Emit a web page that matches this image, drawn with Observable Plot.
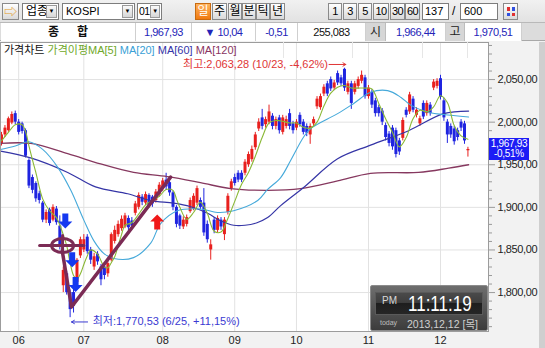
<!DOCTYPE html>
<html><head><meta charset="utf-8">
<script src="https://cdn.jsdelivr.net/npm/d3@7"></script>
<script src="https://cdn.jsdelivr.net/npm/@observablehq/plot@0.6"></script>
<style>
html,body{margin:0;padding:0;background:#f2f2f2;}
#wrap{position:relative;width:545px;height:348px;overflow:hidden;font-family:"Liberation Sans","Noto Sans CJK KR",sans-serif;color:#000;}
.a{position:absolute;box-sizing:border-box;}
.tb{background:linear-gradient(#ffffff,#d9d9d9);border:1px solid #8a8a8a;text-align:center;font-size:11px;line-height:15px;top:3px;height:17px;letter-spacing:-0.5px;white-space:nowrap;}
.kr{font-size:12px;letter-spacing:0;}
.sel{background:#fff;border:1px solid #7d7d7d;top:3px;height:17px;font-size:11px;line-height:15px;padding-left:3px;white-space:nowrap;}
.dd{position:absolute;top:1px;right:1px;width:11px;height:13px;background:linear-gradient(#fafafa,#d6d6d6);border:1px solid #9a9a9a;box-sizing:border-box;font-size:6px;line-height:11px;text-align:center;}
.cell{top:23px;height:18px;background:#fff;border-right:1px solid #cfcfcf;font-size:11px;letter-spacing:-0.5px;line-height:18px;text-align:center;color:#2424b8;white-space:nowrap;}
.gcell{top:23px;height:18px;background:#d6d6d6;border-right:1px solid #bdbdbd;font-size:12px;line-height:18px;text-align:center;color:#222;}
</style></head><body>
<div id="wrap">
  <!-- toolbar -->
  <div class="a" style="left:0;top:0;width:545px;height:23px;background:linear-gradient(#f1f1f1,#e2e2e2);border-bottom:1px solid #b9b9b9;"></div>
  <div class="a tb" style="left:2px;width:17px;color:#e39a1c;font-size:13px;">⇨</div>
  <div class="a sel" style="left:22px;width:37px;font-size:12px;">업종<div class="dd">▼</div></div>
  <div class="a sel" style="left:62px;width:73px;">KOSPI<div class="dd">▼</div></div>
  <div class="a sel" style="left:137px;width:25px;padding-left:1px;font-size:10.5px;letter-spacing:-0.5px;">01<div class="dd" style="width:10px;">▼</div></div>
  <div class="a tb kr" style="left:195px;width:16px;background:linear-gradient(#ffb25a,#f07a10);color:#fff;border-color:#c86a10;">일</div>
  <div class="a tb kr" style="left:212px;width:15px;">주</div>
  <div class="a tb kr" style="left:228px;width:14px;">월</div>
  <div class="a tb kr" style="left:242px;width:14px;">분</div>
  <div class="a tb kr" style="left:256px;width:14px;">틱</div>
  <div class="a tb kr" style="left:270px;width:15px;">년</div>
  <div class="a tb" style="left:328px;width:14px;">1</div>
  <div class="a tb" style="left:343px;width:14px;">3</div>
  <div class="a tb" style="left:358px;width:14px;">5</div>
  <div class="a tb" style="left:373px;width:16px;">10</div>
  <div class="a tb" style="left:390px;width:15px;">30</div>
  <div class="a tb" style="left:405px;width:15px;">60</div>
  <div class="a sel" style="left:422px;width:27px;padding-left:2px;">137</div>
  <div class="a" style="left:452px;top:3px;font-size:12px;line-height:17px;">/</div>
  <div class="a sel" style="left:460px;width:38px;">600</div>
  <div class="a tb" style="left:503px;width:15px;">
    <div class="a" style="left:3px;top:3px;width:3px;height:4px;background:#e03030;"></div>
    <div class="a" style="left:8px;top:3px;width:3px;height:4px;background:#3050e0;"></div>
    <div class="a" style="left:3px;top:9px;width:3px;height:3px;background:#3050e0;"></div>
    <div class="a" style="left:8px;top:9px;width:3px;height:3px;background:#e03030;"></div>
  </div>
  <!-- info row -->
  <div class="a" style="left:0;top:23px;width:545px;height:18px;background:#dcdcdc;border-bottom:1px solid #a8a8a8;"></div>
  <div class="a cell" style="left:1px;width:135px;color:#111;font-weight:bold;font-size:12px;letter-spacing:18px;padding-left:18px;">종합</div>
  <div class="a cell" style="left:136px;width:56px;">1,967,93</div>
  <div class="a cell" style="left:192px;width:64px;">▼ 10,04</div>
  <div class="a cell" style="left:256px;width:42px;">-0,51</div>
  <div class="a cell" style="left:298px;width:68px;color:#111;">255,083</div>
  <div class="a gcell" style="left:366px;width:20px;">시</div>
  <div class="a cell" style="left:386px;width:60px;">1,966,44</div>
  <div class="a gcell" style="left:446px;width:19px;">고</div>
  <div class="a cell" style="left:465px;width:57px;">1,970,51</div>
  <!-- chart -->
  <div id="chart" class="a" style="left:0;top:41px;"></div>
  <div class="a" style="left:539px;top:42px;width:6px;height:306px;background:#cfcfcf;"></div>
  <!-- legend separators -->
  <div class="a" style="left:283px;top:42px;width:1px;height:16px;background:#e6e6e6;"></div>
  <div class="a" style="left:352px;top:42px;width:1px;height:16px;background:#e6e6e6;"></div>
  <div class="a" style="left:422px;top:42px;width:1px;height:16px;background:#e6e6e6;"></div>
  <div class="a" style="left:467px;top:42px;width:1px;height:16px;background:#e6e6e6;"></div>
  <div id="legend" class="a" style="left:4px;top:43px;font-size:11px;line-height:14px;white-space:nowrap;">
    <span style="color:#111">가격차트</span> <span style="color:#6fa82a">가격이평MA[5]</span> <span style="color:#3a9fd6">MA[20]</span> <span style="color:#3434a8">MA[60]</span> <span style="color:#8a3562">MA[120]</span>
  </div>
  <!-- price tag -->
  <div id="tag" class="a" style="left:489px;width:40px;height:22px;background:#1c1cf5;color:#fff;font-size:10px;letter-spacing:-0.3px;line-height:10.5px;text-align:center;padding-top:1px;white-space:nowrap;">1,967,93<br>-0,51%</div>
  <!-- clock -->
  <div class="a" style="left:370px;top:285px;width:118px;height:46px;background:linear-gradient(#6e6e6e,#3c3c3c);border:1px solid #8c8c8c;border-radius:2px;">
    <div class="a" style="left:4px;top:6px;width:108px;height:23px;background:linear-gradient(#4a4a4a 0%,#3e3e3e 45%,#1e1e1e 50%,#262626 100%);border:1px solid #5a5a5a;"></div>
    <div class="a" style="left:11px;top:9px;font-size:10px;color:#d8d8d8;">PM</div>
    <div class="a" style="left:37px;top:7px;font-size:17px;line-height:17px;color:#fff;transform:scale(1,1.3);transform-origin:0 0;white-space:nowrap;">11:11:19</div>
    <div class="a" style="left:9px;top:33px;font-size:7px;color:#bdbdbd;">today</div>
    <div class="a" style="left:36px;top:30px;font-size:10.5px;color:#d0d0d0;white-space:nowrap;">2013,12,12 [목]</div>
  </div>
</div>
<script>
// ---- data ----
const monthTickIdx = [5, 24, 47, 68, 86, 107, 128];
const monthLabels = ["06", "07", "08", "09", "10", "11", "12"];
const yMajor = [1800, 1850, 1900, 1950, 2000, 2050];

const opens = [
  1975,1985,1990,1999,2010,2000,1998,1990,1955,1935,
  1928,1916,1905,1885,1897,1885,1898,1878,1808,1822,
  1800,1800,1812,1843,1850,1865,1850,1830,1845,1830,
  1830,1822,1838,1860,1868,1875,1877,1887,1884,1893,
  1900,1912,1905,1914,1912,1908,1915,1922,1932,1929,
  1917,1900,1890,1877,1880,1895,1898,1905,1908,1905,
  1880,1850,1885,1873,1885,1868,1894,1922,1935,1940,
  1940,1940,1950,1956,1970,1992,2005,1997,2000,2007,
  1995,2005,1988,1995,2010,1998,1993,2008,2000,1995,
  1985,1998,2018,2017,2033,2045,2050,2040,2057,2052,
  2062,2035,2045,2035,2042,2048,2052,2030,2035,2025,
  2017,2013,1996,1986,1993,1990,1978,1981,2014,2012,
  2027,2008,1998,2022,2010,2020,2040,2042,2051,2025,
  2000,1995,1992,1990,2000,1998,1966.44];
const highs = [
  1988,1996,2006,2012,2013,2003,2000,1992,1957,1938,
  1930,1919,1907,1897,1899,1903,1901,1890,1830,1825,
  1803,1808,1840,1865,1868,1868,1853,1846,1848,1833,
  1834,1838,1870,1878,1884,1890,1893,1890,1888,1907,
  1917,1915,1918,1916,1914,1921,1929,1934,1940,1931,
  1919,1902,1892,1889,1891,1911,1916,1925,1911,1922,
  1884,1862,1888,1890,1888,1888,1916,1933,1939,1943,
  1943,1956,1965,1972,1988,2004,2015,2006,2020,2010,
  2006,2008,2008,2007,2015,2001,2003,2011,2003,1998,
  1998,2006,2030,2033,2044,2048,2053,2049,2060,2055,
  2063.28,2048,2048,2048,2053,2060,2055,2043,2038,2028,
  2020,2016,1999,1989,1996,1993,1981,2005,2017,2035,
  2030,2017,2007,2025,2025,2023,2050,2051,2055,2028,
  2003,1998,1995,1993,2003,2001,1970.51];
const lows = [
  1972,1982,1988,1997,1997,1985,1986,1958,1922,1916,
  1906,1904,1882,1881,1878,1883,1879,1850,1800,1797,
  1770.53,1776,1810,1840,1847,1845,1833,1826,1832,1808,
  1815,1818,1836,1857,1865,1872,1875,1872,1874,1890,
  1897,1902,1902,1899,1900,1905,1912,1919,1920,1913,
  1896,1876,1874,1874,1877,1893,1896,1902,1897,1866,
  1858,1838,1869,1870,1873,1861,1891,1919,1925,1929,
  1929,1937,1947,1953,1967,1989,1991,1993,1997,1991,
  1991,1986,1985,1992,1991,1986,1990,1994,1985,1983,
  1974,1995,2015,2014,2030,2030,2036,2037,2043,2042,
  2036,2032,2015,2032,2039,2045,2027,2027,2016,2006,
  2006,1996,1978,1971,1967,1958,1961,1978,2005,2009,
  2011,2005,1995,2003,2007,2007,2037,2039,2026,2001,
  1975,1981,1973,1978,1989,1974,1959];
const closes = [
  1985,1993,2004,2009,2000,1988,1989,1960,1925,1920,
  1910,1908,1885,1894,1881,1900,1882,1853,1826,1800,
  1780,1784,1838,1862,1862,1848,1838,1842,1836,1815,
  1820,1834,1868,1873,1880,1886,1890,1876,1878,1904,
  1914,1906,1915,1902,1904,1918,1926,1931,1924,1917,
  1900,1880,1878,1885,1888,1908,1913,1922,1900,1870,
  1862,1856,1873,1887,1877,1885,1913,1930,1928,1932,
  1932,1953,1962,1968,1985,2000,1995,2003,2012,1995,
  2003,1990,2005,2003,1995,1990,2000,1997,1988,1987,
  1995,2003,2027,2030,2041,2033,2039,2046,2046,2045,
  2040,2045,2022,2045,2050,2055,2030,2040,2020,2010,
  2010,2000,1982,1975,1971,1962,1965,2002,2008,2032,
  2014,2014,2004,2006,2022,2010,2047,2048,2029,2005,
  1985,1985,1977,1982,1993,1978,1967.93];

const ma5 = [[0,1978],[2,1988],[4,1997],[6,1997],[7,1989],[8,1972],[9,1956],[10,1941],[12,1910],[14,1896],[16,1888],[18,1868],[19,1855],[20,1835],[21,1820],[22,1816],[23,1822],[24,1833],[25,1843],[26,1850],[28,1845],[30,1830],[31,1829],[32,1835],[33,1842],[34,1855],[35,1868],[36,1879],[38,1882],[40,1892],[42,1903],[44,1908],[46,1913],[48,1921],[50,1920],[51,1910],[52,1900],[54,1886],[56,1894],[58,1906],[60,1893],[62,1872],[64,1871],[66,1887],[68,1907],[70,1927],[72,1941],[74,1960],[76,1982],[78,1999],[80,2002],[82,2001],[84,1999],[86,1999],[88,1994],[90,1993],[92,2000],[94,2019],[96,2034],[98,2041],[100,2043],[102,2040],[104,2040],[106,2040],[108,2039],[110,2022],[112,2004],[114,1988],[116,1971],[118,1982],[120,2004],[122,2014],[124,2012],[126,2018],[128,2031],[130,2023],[132,1996],[134,1984],[136,1980]];
const ma20 = [[-0.3,1968],[4,1972],[8,1977],[12,1968],[16.4,1947],[20.2,1920],[24,1885],[26.9,1861],[29.8,1846],[32.7,1840],[38.5,1841],[43.5,1858],[46.4,1881],[51.3,1896],[58,1898],[63,1894],[67.7,1896],[74.7,1908],[77.6,1921],[81.4,1935],[84.3,1955],[88,1982],[90,1992],[98,2010],[102.7,2022],[107.6,2035],[112.6,2037],[116.5,2029],[119.3,2020],[125.1,2011],[128.9,2009],[136.2,2006]];
const ma60 = [[-0.3,1966],[8.5,1958],[19.3,1941],[27.4,1924],[36.8,1916],[43.5,1908],[50.2,1905],[55,1901],[60.1,1893],[64,1884],[67.7,1879],[71,1879],[74.5,1882],[77.6,1888],[81.4,1902],[88,1923],[98,1957],[107.6,1973],[118.7,1990],[128.9,2010],[136.2,2013]];
const ma120 = [[-0.3,1975],[8.5,1975],[19.3,1963],[28.9,1951],[38.5,1941],[48.4,1936],[58,1929],[66.8,1922],[77.6,1920],[87.2,1922],[98,1931],[107.6,1940],[121.6,1941],[130.4,1946],[136.2,1950]];

// hand-drawn annotations (index, value)
const vPath = [[17.7,1849],[20.4,1783],[49.3,1935.5]];
const crossH = [[11.1,1855.3],[24,1855.3]];
const crossV = [[17.8,1867],[17.8,1849]];
const ellipseAt = [[17.8,1855.3]];
const downArrows = [[18.6,1883.5],[20.6,1838],[21.6,1809]];
const upArrows = [[45.4,1883.5]];
const highNote = [{x: 95.2, x2: 100.4, y: 2067.7, text: "최고:2,063,28 (10/23, -4,62%)"}];
const lowNote = [{x: 26.6, x1: 25.1, x2: 20.4, y: 1765.5, text: "최저:1,770,53 (6/25, +11,15%)"}];

// ---- chart ----
const RED = "#e8201e", BLUE = "#1f24e0", MAROON = "#7b2b55";
const FONT = '"Liberation Sans","Noto Sans CJK KR",sans-serif';
const candles = closes.map((c, i) => ({i, o: opens[i], h: highs[i], l: lows[i], c}));
const up = candles.filter(d => d.c >= d.o), dn = candles.filter(d => d.c < d.o);
const yMinor = d3.range(1760, 2100, 10).filter(v => v % 50 !== 0);
const fmtY = v => d3.format(",")(v) + ",00";

const ellipseSym = {draw(ctx) {const rx = 11, ry = 7, k = 0.5523;
  ctx.moveTo(rx, 0); ctx.bezierCurveTo(rx, ry*k, rx*k, ry, 0, ry); ctx.bezierCurveTo(-rx*k, ry, -rx, ry*k, -rx, 0);
  ctx.bezierCurveTo(-rx, -ry*k, -rx*k, -ry, 0, -ry); ctx.bezierCurveTo(rx*k, -ry, rx, -ry*k, rx, 0); ctx.closePath();}};
const arrowDownSym = {draw(ctx) {ctx.moveTo(-3,-8); ctx.lineTo(3,-8); ctx.lineTo(3,0); ctx.lineTo(7,0); ctx.lineTo(0,7); ctx.lineTo(-7,0); ctx.lineTo(-3,0); ctx.closePath();}};
const arrowUpSym = {draw(ctx) {ctx.moveTo(-3,8); ctx.lineTo(3,8); ctx.lineTo(3,0); ctx.lineTo(7,0); ctx.lineTo(0,-7); ctx.lineTo(-7,0); ctx.lineTo(-3,0); ctx.closePath();}};

const X = d => d[0], Y = d => d[1];
const chart = Plot.plot({
  width: 545, height: 307,
  marginTop: 1, marginBottom: 17, marginLeft: 0, marginRight: 57,
  x: {domain: [-0.3, 142], axis: null, label: null},
  y: {domain: [1754.3, 2093.5], axis: null, label: null},
  style: {background: "transparent", fontFamily: FONT, overflow: "visible"},
  marks: [
    Plot.frame({fill: "white", stroke: "none"}),
    Plot.gridY(yMajor, {stroke: "#e2e2e2", strokeOpacity: 1}),
    Plot.gridX(monthTickIdx, {stroke: "#e2e2e2", strokeOpacity: 1}),
    Plot.ruleX(up, {x: "i", y1: "l", y2: "h", stroke: RED}),
    Plot.ruleX(dn, {x: "i", y1: "l", y2: "h", stroke: BLUE}),
    Plot.ruleX(up, {x: "i", y1: "o", y2: "c", stroke: RED, strokeWidth: 3}),
    Plot.ruleX(dn, {x: "i", y1: "o", y2: "c", stroke: BLUE, strokeWidth: 3}),
    Plot.line(ma120, {x: X, y: Y, stroke: "#86385f", strokeWidth: 1.3, curve: "catmull-rom"}),
    Plot.line(ma60, {x: X, y: Y, stroke: "#3535a6", strokeWidth: 1.2, curve: "catmull-rom"}),
    Plot.line(ma20, {x: X, y: Y, stroke: "#45a9da", strokeWidth: 1.1, curve: "catmull-rom"}),
    Plot.line(ma5, {x: X, y: Y, stroke: "#8ab836", strokeWidth: 1.1, curve: "catmull-rom"}),
    Plot.line(vPath, {x: X, y: Y, stroke: MAROON, strokeWidth: 3.5}),
    Plot.line(crossH, {x: X, y: Y, stroke: MAROON, strokeWidth: 3}),
    Plot.line(crossV, {x: X, y: Y, stroke: MAROON, strokeWidth: 3}),
    Plot.dot(ellipseAt, {x: X, y: Y, symbol: ellipseSym, fill: "none", stroke: MAROON, strokeWidth: 3}),
    Plot.dot(downArrows, {x: X, y: Y, symbol: arrowDownSym, fill: "#1438f0", stroke: "none"}),
    Plot.dot(upArrows, {x: X, y: Y, symbol: arrowUpSym, fill: "#f01818", stroke: "none"}),
    Plot.text(highNote, {x: "x", y: "y", text: "text", textAnchor: "end", fill: "#e03535", fontSize: 11}),
    Plot.arrow(highNote, {x1: d => d.x + 0.3, x2: "x2", y1: "y", y2: "y", stroke: "#e03535", strokeWidth: 1, headLength: 5}),
    Plot.text(lowNote, {x: "x", y: "y", text: "text", textAnchor: "start", fill: "#3a3ad2", fontSize: 11}),
    Plot.arrow(lowNote, {x1: "x1", x2: "x2", y1: "y", y2: "y", stroke: "#3a3ad2", strokeWidth: 1, headLength: 5}),
    Plot.frame({stroke: "#9c9c9c"}),
    Plot.axisX(monthTickIdx, {anchor: "bottom", tickSize: 0, tickPadding: 5, tickFormat: d => monthLabels[monthTickIdx.indexOf(d)], fontSize: 11, fill: "#222", label: null}),
    Plot.axisY(yMinor, {anchor: "right", tickSize: 3, tickFormat: () => "", stroke: "#9a9a9a", label: null}),
    Plot.axisY(yMajor, {anchor: "right", tickSize: 6, tickPadding: 3, tickFormat: fmtY, stroke: "#9a9a9a", fill: "#222", fontSize: 11, label: null})
  ]
});
// tighten the right-axis labels a little, like the narrow original font
chart.querySelectorAll("text").forEach(t => { if (/,00$/.test(t.textContent)) t.style.letterSpacing = "-0.4px"; });
document.getElementById("chart").appendChild(chart);
const sy = chart.scale("y");
document.getElementById("tag").style.top = (41 + sy.apply(closes[closes.length - 1]) - 11) + "px";
</script>
</body></html>
